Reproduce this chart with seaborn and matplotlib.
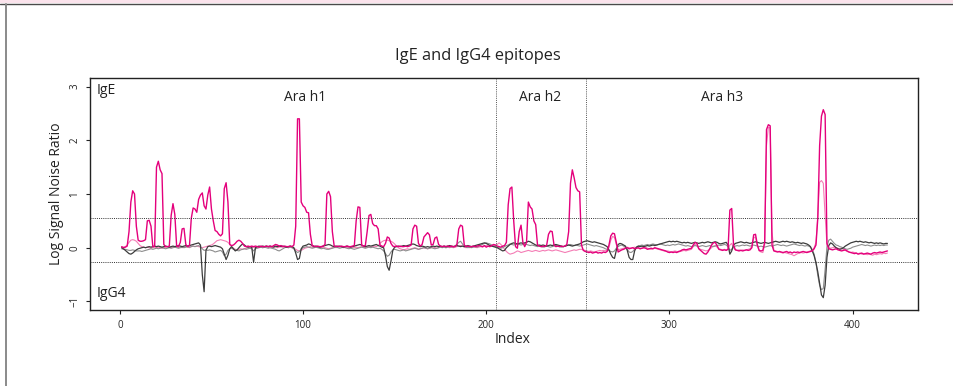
import numpy as np
import pandas as pd
import matplotlib
matplotlib.use("Agg")
import matplotlib.pyplot as plt
from matplotlib.lines import Line2D
from matplotlib.patches import Rectangle
import seaborn as sns

# Log signal/noise ratio per peptide index, two IgE and two IgG4 profiles
ige_a = [
    0.02, 0.00, 0.01, 0.03, 0.30, 0.85, 1.06, 1.00, 0.40, 0.14, 0.12, 0.12, 0.13, 0.15, 0.50, 0.51, 0.40, 0.02, 0.03, 1.50,
    1.61, 1.45, 1.38, 0.06, 0.02, 0.02, 0.03, 0.60, 0.82, 0.62, 0.03, 0.02, 0.10, 0.35, 0.36, 0.06, 0.02, 0.04, 0.55, 0.74,
    0.72, 0.66, 0.90, 0.98, 1.02, 0.78, 0.72, 0.98, 1.13, 0.72, 0.50, 0.32, 0.30, 0.25, 0.22, 0.26, 1.10, 1.21, 0.85, 0.06,
    0.04, 0.05, 0.08, 0.12, 0.14, 0.12, 0.08, 0.03, 0.02, 0.03, 0.02, 0.03, 0.02, 0.03, 0.02, 0.01, 0.03, 0.02, 0.02, 0.03,
    0.02, 0.03, 0.02, 0.04, 0.06, 0.05, 0.03, 0.04, 0.02, 0.03, 0.02, 0.02, 0.03, 0.02, 0.05, 0.40, 2.40, 2.40, 0.85, 0.78,
    0.75, 0.66, 0.65, 0.25, 0.04, 0.03, 0.02, 0.03, 0.02, 0.02, 0.03, 0.06, 1.00, 1.05, 0.95, 0.30, 0.03, 0.02, 0.03, 0.02,
    0.03, 0.02, 0.02, 0.03, 0.02, 0.02, 0.03, 0.04, 0.50, 0.76, 0.75, 0.05, 0.03, 0.04, 0.30, 0.60, 0.62, 0.45, 0.41, 0.41,
    0.35, 0.05, 0.03, 0.02, 0.08, 0.20, 0.18, 0.08, 0.03, 0.02, 0.03, 0.02, 0.03, 0.02, 0.02, 0.03, 0.02, 0.03, 0.05, 0.35,
    0.42, 0.40, 0.08, 0.03, 0.06, 0.20, 0.24, 0.28, 0.24, 0.05, 0.06, 0.18, 0.20, 0.06, 0.03, 0.02, 0.03, 0.02, 0.03, 0.02,
    0.03, 0.02, 0.02, 0.06, 0.35, 0.42, 0.40, 0.05, 0.02, 0.03, 0.02, 0.02, 0.03, 0.02, 0.03, 0.04, 0.03, 0.02, 0.04, 0.01,
    0.03, 0.02, 0.04, 0.06, 0.05, 0.03, 0.02, 0.01, 0.03, 0.04, 0.10, 0.80, 1.10, 1.13, 0.50, 0.02, -0.01, 0.30, 0.42, 0.10,
    0.02, 0.10, 0.85, 0.76, 0.72, 0.50, 0.43, 0.05, 0.03, 0.02, 0.03, 0.02, 0.05, 0.25, 0.31, 0.30, 0.05, 0.02, 0.03, 0.02,
    0.03, 0.02, 0.03, 0.06, 0.30, 1.20, 1.45, 1.30, 1.12, 1.06, 1.04, 0.05, -0.05, -0.07, -0.08, -0.09, -0.08, -0.10, -0.09, -0.08,
    -0.10, -0.09, -0.10, -0.08, -0.09, -0.07, 0.05, 0.22, 0.27, 0.26, 0.10, -0.08, -0.06, -0.04, -0.03, -0.01, 0.00, -0.02, -0.01, 0.00,
    -0.02, -0.01, 0.00, -0.02, -0.01, 0.00, -0.01, -0.03, -0.02, -0.01, -0.02, 0.00, -0.01, -0.02, -0.03, -0.04, -0.05, -0.06, -0.08, -0.09,
    -0.08, -0.09, -0.08, -0.09, -0.07, -0.06, -0.04, -0.03, -0.04, -0.03, -0.02, -0.01, 0.05, 0.10, 0.08, -0.02, -0.05, -0.08, -0.11, -0.12,
    -0.08, -0.02, 0.05, 0.09, 0.10, 0.04, -0.03, -0.04, -0.05, -0.04, -0.05, -0.03, 0.70, 0.73, 0.05, -0.04, -0.05, -0.06, -0.05, -0.06,
    -0.05, -0.04, -0.05, -0.04, 0.00, 0.24, 0.25, 0.05, -0.05, -0.06, -0.05, 0.10, 2.20, 2.29, 2.27, 0.05, -0.06, -0.07, -0.08, -0.07,
    -0.08, -0.09, -0.08, -0.07, -0.09, -0.08, -0.10, -0.08, -0.09, -0.08, -0.09, -0.08, -0.07, -0.08, -0.09, -0.08, -0.07, -0.06, -0.02, 0.05,
    0.55, 1.90, 2.45, 2.57, 2.48, 0.08, -0.02, -0.03, -0.04, -0.03, -0.02, -0.04, -0.05, -0.06, -0.05, -0.04, -0.06, -0.08, -0.09, -0.10,
    -0.11, -0.10, -0.12, -0.11, -0.10, -0.12, -0.11, -0.10, -0.11, -0.12, -0.10, -0.09, -0.10, -0.09, -0.08, -0.09, -0.08, -0.07, -0.06,
]

ige_b = [
    0.00, 0.01, 0.02, 0.05, 0.10, 0.14, 0.15, 0.14, 0.12, 0.08, 0.04, 0.02, 0.01, 0.00, 0.01, 0.00, -0.01, 0.00, 0.01, 0.00,
    0.01, 0.00, -0.01, 0.00, 0.01, 0.02, 0.01, 0.00, 0.01, 0.02, 0.01, 0.00, 0.01, 0.00, 0.01, 0.02, 0.01, 0.00, 0.02, 0.03,
    0.02, 0.03, 0.02, 0.01, 0.00, 0.01, 0.02, 0.03, 0.04, 0.05, 0.07, 0.10, 0.13, 0.14, 0.15, 0.14, 0.13, 0.12, 0.10, 0.06,
    0.02, -0.01, -0.03, -0.04, -0.03, -0.02, -0.03, -0.02, -0.01, 0.00, 0.01, 0.00, 0.01, 0.00, 0.01, 0.02, 0.01, 0.00, 0.01, 0.02,
    0.01, 0.00, 0.01, 0.02, 0.01, 0.00, 0.01, 0.02, 0.01, 0.02, 0.01, 0.00, 0.01, 0.00, -0.01, -0.03, -0.05, -0.06, -0.05, -0.03,
    -0.01, 0.00, 0.01, 0.02, 0.01, 0.00, 0.01, 0.02, 0.01, 0.00, 0.01, 0.00, -0.01, -0.02, -0.01, 0.00, 0.01, 0.00, 0.01, 0.02,
    0.01, 0.00, 0.01, 0.00, 0.01, 0.02, 0.01, 0.00, 0.01, 0.00, 0.01, 0.02, 0.01, 0.00, 0.01, 0.02, 0.01, 0.02, 0.03, 0.02,
    0.04, 0.08, 0.11, 0.13, 0.14, 0.14, 0.13, 0.12, 0.10, 0.07, 0.03, 0.00, -0.02, -0.03, -0.04, -0.03, -0.02, -0.03, -0.02, -0.01,
    0.00, -0.01, -0.03, -0.02, -0.01, 0.00, -0.01, -0.02, -0.01, 0.00, 0.01, 0.00, -0.01, 0.00, 0.01, 0.02, 0.01, 0.00, 0.01, 0.00,
    0.01, 0.00, 0.01, 0.02, 0.03, 0.04, 0.03, 0.01, 0.00, 0.01, 0.00, 0.01, 0.02, 0.01, 0.00, 0.01, 0.02, 0.01, 0.03, 0.04,
    0.03, 0.02, 0.04, 0.05, 0.04, 0.06, 0.09, 0.06, 0.02, -0.03, -0.07, -0.10, -0.12, -0.11, -0.10, -0.08, -0.06, -0.07, -0.09, -0.08,
    -0.07, -0.06, -0.05, -0.06, -0.07, -0.06, -0.05, -0.06, -0.07, -0.06, -0.05, -0.06, -0.05, -0.04, -0.05, -0.06, -0.05, -0.04, -0.05, -0.06,
    -0.07, -0.08, -0.09, -0.08, -0.07, -0.06, -0.05, -0.04, -0.05, -0.04, -0.03, -0.03, -0.04, -0.05, -0.06, -0.07, -0.06, -0.07, -0.08, -0.07,
    -0.06, -0.05, -0.06, -0.05, -0.06, -0.04, 0.00, 0.14, 0.21, 0.19, 0.06, -0.04, -0.03, -0.02, -0.01, 0.00, 0.01, 0.00, -0.01, 0.00,
    0.01, 0.00, -0.01, -0.02, -0.01, 0.00, 0.01, -0.01, -0.02, -0.03, -0.02, -0.01, -0.02, -0.03, -0.04, -0.05, -0.06, -0.07, -0.06, -0.07,
    -0.08, -0.07, -0.06, -0.07, -0.08, -0.07, -0.06, -0.05, -0.06, -0.05, -0.04, -0.03, 0.02, 0.06, 0.04, -0.01, -0.03, -0.04, -0.05, -0.06,
    -0.05, -0.03, 0.00, 0.03, 0.04, 0.01, -0.02, -0.03, -0.04, -0.03, -0.04, -0.03, 0.05, 0.08, 0.00, -0.04, -0.05, -0.04, -0.05, -0.04,
    -0.05, -0.04, -0.03, -0.02, 0.02, 0.18, 0.20, 0.04, -0.06, -0.08, -0.09, 0.05, 1.90, 2.24, 2.23, 0.30, -0.05, -0.06, -0.07, -0.08,
    -0.09, -0.10, -0.09, -0.10, -0.11, -0.12, -0.13, -0.15, -0.13, -0.11, -0.10, -0.09, -0.10, -0.09, -0.08, -0.07, -0.06, -0.04, 0.00, 0.10,
    0.60, 1.22, 1.25, 1.20, 0.60, 0.05, 0.00, -0.01, 0.00, 0.01, 0.00, -0.01, -0.02, -0.01, -0.03, -0.05, -0.07, -0.08, -0.09, -0.08,
    -0.09, -0.10, -0.11, -0.10, -0.12, -0.11, -0.12, -0.13, -0.12, -0.13, -0.14, -0.12, -0.13, -0.12, -0.11, -0.12, -0.10, -0.11, -0.10,
]

igg4_a = [
    0.00, -0.02, -0.05, -0.08, -0.11, -0.12, -0.10, -0.07, -0.04, -0.02, -0.01, 0.00, 0.01, 0.00, 0.01, 0.02, 0.01, 0.02, 0.03, 0.02,
    0.03, 0.02, 0.01, 0.02, 0.03, 0.02, 0.01, 0.02, 0.03, 0.02, 0.03, 0.04, 0.03, 0.02, 0.03, 0.04, 0.03, 0.04, 0.05, 0.06,
    0.07, 0.08, 0.09, 0.05, -0.50, -0.82, -0.05, 0.02, 0.03, 0.02, 0.03, 0.04, 0.03, 0.02, 0.01, -0.02, -0.12, -0.22, -0.14, -0.02,
    0.02, -0.02, -0.06, -0.04, 0.00, 0.04, 0.07, 0.05, 0.02, 0.01, 0.02, 0.01, -0.27, 0.00, 0.02, 0.03, 0.02, 0.03, 0.02, 0.03,
    0.02, 0.03, 0.02, 0.01, 0.03, 0.02, 0.03, 0.02, 0.03, 0.02, 0.01, 0.02, 0.03, 0.02, 0.00, -0.10, -0.22, -0.20, -0.02, 0.03,
    0.04, 0.05, 0.07, 0.06, 0.04, 0.02, 0.03, 0.02, 0.01, 0.02, 0.03, 0.04, 0.05, 0.06, 0.05, 0.03, 0.02, 0.03, 0.02, 0.03,
    0.02, 0.01, 0.02, 0.03, 0.02, 0.01, 0.02, 0.03, 0.04, 0.05, 0.06, 0.05, 0.03, 0.02, 0.03, 0.04, 0.03, 0.04, 0.05, 0.06,
    0.04, 0.03, 0.01, 0.00, -0.15, -0.35, -0.42, -0.25, -0.05, 0.01, 0.02, 0.03, 0.02, 0.03, 0.04, 0.03, 0.04, 0.05, 0.06, 0.07,
    0.06, 0.04, 0.03, 0.02, 0.03, 0.02, 0.01, 0.02, 0.01, 0.02, 0.03, 0.02, 0.03, 0.02, 0.03, 0.02, 0.03, 0.02, 0.03, 0.04,
    0.03, 0.02, 0.03, 0.04, 0.03, 0.02, 0.03, 0.02, 0.03, 0.04, 0.03, 0.02, 0.03, 0.04, 0.05, 0.06, 0.07, 0.08, 0.09, 0.08,
    0.06, 0.04, 0.03, 0.02, 0.01, 0.00, -0.02, -0.04, -0.06, -0.05, 0.00, 0.03, 0.06, 0.08, 0.09, 0.08, 0.07, 0.08, 0.09, 0.08,
    0.09, 0.10, 0.12, 0.11, 0.09, 0.07, 0.05, 0.04, 0.05, 0.04, 0.05, 0.04, 0.03, 0.04, 0.05, 0.04, 0.05, 0.06, 0.05, 0.04,
    0.03, 0.02, 0.03, 0.04, 0.05, 0.04, 0.03, 0.04, 0.05, 0.06, 0.07, 0.09, 0.11, 0.12, 0.13, 0.12, 0.11, 0.10, 0.11, 0.10,
    0.09, 0.08, 0.07, 0.06, 0.04, 0.02, -0.04, -0.12, -0.18, -0.20, -0.05, 0.06, 0.08, 0.07, 0.05, 0.03, -0.05, -0.18, -0.22, -0.22,
    -0.06, 0.01, 0.03, 0.02, 0.03, 0.02, 0.03, 0.04, 0.03, 0.04, 0.05, 0.04, 0.05, 0.06, 0.07, 0.08, 0.09, 0.10, 0.11, 0.12,
    0.11, 0.12, 0.11, 0.12, 0.11, 0.10, 0.09, 0.10, 0.09, 0.10, 0.09, 0.08, 0.09, 0.10, 0.09, 0.08, 0.09, 0.10, 0.09, 0.10,
    0.11, 0.10, 0.09, 0.10, 0.11, 0.10, 0.08, 0.07, 0.08, 0.09, 0.10, 0.05, -0.12, -0.06, 0.05, 0.08, 0.09, 0.10, 0.11, 0.10,
    0.09, 0.10, 0.09, 0.08, 0.09, 0.10, 0.11, 0.10, 0.09, 0.08, 0.09, 0.10, 0.09, 0.08, 0.09, 0.10, 0.11, 0.12, 0.11, 0.10,
    0.11, 0.12, 0.11, 0.12, 0.11, 0.10, 0.11, 0.10, 0.09, 0.10, 0.09, 0.08, 0.09, 0.08, 0.07, 0.05, 0.02, -0.06, -0.15, -0.28,
    -0.45, -0.66, -0.88, -0.93, -0.70, -0.18, 0.04, 0.09, 0.07, 0.03, 0.00, -0.02, -0.03, -0.02, 0.00, 0.03, 0.05, 0.07, 0.09, 0.10,
    0.11, 0.12, 0.11, 0.12, 0.11, 0.10, 0.11, 0.10, 0.09, 0.10, 0.09, 0.08, 0.09, 0.08, 0.09, 0.08, 0.07, 0.08, 0.08,
]

igg4_b = [
    -0.02, -0.03, -0.03, -0.04, -0.05, -0.05, -0.04, -0.05, -0.06, -0.06, -0.06, -0.07, -0.06, -0.05, -0.04, -0.03, -0.02, -0.03, -0.02, -0.01,
    -0.02, -0.01, 0.00, -0.01, -0.02, -0.01, 0.00, -0.01, 0.00, 0.01, 0.00, -0.01, 0.00, 0.01, 0.00, 0.01, 0.02, 0.01, 0.02, 0.03,
    0.02, 0.03, 0.04, 0.02, -0.02, -0.05, -0.04, -0.05, -0.04, -0.05, -0.06, -0.08, -0.07, -0.06, -0.05, -0.08, -0.15, -0.12, -0.05, -0.02,
    -0.01, -0.03, -0.04, -0.05, -0.06, -0.04, -0.03, -0.02, -0.03, -0.02, -0.01, -0.02, -0.06, -0.02, -0.01, 0.00, 0.01, 0.00, 0.01, 0.00,
    -0.01, 0.00, -0.01, -0.02, -0.03, -0.05, -0.06, -0.04, -0.02, 0.00, 0.01, 0.00, 0.01, 0.00, -0.02, -0.06, -0.09, -0.07, -0.03, 0.00,
    0.01, 0.02, 0.01, 0.00, -0.01, 0.00, 0.01, 0.00, -0.01, -0.02, -0.01, -0.02, -0.03, -0.03, -0.02, -0.01, 0.00, 0.01, 0.00, -0.01,
    0.00, 0.01, 0.00, -0.01, -0.02, -0.01, -0.02, -0.03, -0.02, -0.01, 0.00, 0.01, 0.00, -0.01, 0.00, 0.01, 0.00, 0.01, 0.00, -0.01,
    -0.02, -0.01, -0.03, -0.06, -0.11, -0.16, -0.14, -0.08, -0.04, -0.03, -0.04, -0.05, -0.06, -0.05, -0.04, -0.06, -0.05, -0.04, -0.03, -0.02,
    -0.01, -0.02, -0.03, -0.02, -0.01, 0.00, -0.01, -0.02, -0.01, 0.00, -0.01, -0.02, -0.01, 0.00, 0.01, 0.00, 0.01, 0.00, 0.01, 0.02,
    0.01, 0.02, 0.03, 0.06, 0.10, 0.12, 0.07, 0.03, 0.01, 0.00, 0.01, 0.00, 0.01, 0.02, 0.01, 0.03, 0.05, 0.06, 0.08, 0.09,
    0.08, 0.07, 0.05, 0.03, 0.02, 0.01, 0.00, -0.01, 0.00, 0.02, 0.04, 0.05, 0.07, 0.06, 0.05, 0.06, 0.07, 0.06, 0.05, 0.06,
    0.07, 0.06, 0.05, 0.04, 0.05, 0.04, 0.03, 0.02, 0.03, 0.02, 0.01, 0.02, 0.03, 0.02, 0.01, 0.02, 0.03, 0.04, 0.03, 0.02,
    0.01, 0.02, 0.03, 0.04, 0.05, 0.06, 0.05, 0.04, 0.05, 0.04, 0.03, 0.04, 0.05, 0.06, 0.07, 0.06, 0.05, 0.04, 0.03, 0.04,
    0.03, 0.02, 0.01, 0.00, -0.02, -0.03, -0.05, -0.07, -0.08, -0.06, -0.01, 0.02, 0.04, 0.05, 0.03, 0.01, -0.03, -0.08, -0.09, -0.07,
    -0.03, 0.01, 0.03, 0.04, 0.05, 0.04, 0.05, 0.06, 0.05, 0.06, 0.07, 0.06, 0.05, 0.06, 0.07, 0.06, 0.05, 0.04, 0.05, 0.04,
    0.05, 0.06, 0.05, 0.06, 0.07, 0.06, 0.05, 0.04, 0.03, 0.04, 0.03, 0.02, 0.03, 0.04, 0.03, 0.02, 0.03, 0.04, 0.03, 0.02,
    0.03, 0.04, 0.03, 0.02, 0.03, 0.04, 0.05, 0.04, 0.05, 0.06, 0.05, 0.02, -0.05, -0.03, 0.02, 0.03, 0.04, 0.03, 0.04, 0.05,
    0.04, 0.05, 0.04, 0.03, 0.04, 0.05, 0.04, 0.03, 0.02, 0.03, 0.02, 0.01, 0.02, 0.03, 0.04, 0.03, 0.04, 0.05, 0.06, 0.05,
    0.04, 0.05, 0.04, 0.03, 0.04, 0.05, 0.06, 0.07, 0.06, 0.05, 0.04, 0.05, 0.04, 0.03, 0.04, 0.03, 0.01, -0.04, -0.12, -0.28,
    -0.52, -0.70, -0.78, -0.76, -0.40, 0.02, 0.14, 0.16, 0.12, 0.08, 0.05, 0.04, 0.02, 0.01, -0.01, -0.02, -0.03, -0.02, -0.01, 0.01,
    0.02, 0.03, 0.04, 0.05, 0.06, 0.05, 0.04, 0.05, 0.04, 0.03, 0.04, 0.05, 0.04, 0.05, 0.04, 0.05, 0.04, 0.05, 0.05,
]

# Allergen boundaries (peptide index) and their labels
region_bounds = [205.3, 254.2]
region_names = ["Ara h1", "Ara h2", "Ara h3"]
region_label_x = [101, 229.5, 329]
# Significance cut-offs for IgE (upper) and IgG4 (lower)
thresholds = [0.548, -0.268]

x_ticks = [0, 100, 200, 300, 400]
y_ticks = [-1, 0, 1, 2, 3]

index = np.arange(1, len(ige_a) + 1)
series = {
    "IgE b": ige_b,
    "IgG4 b": igg4_b,
    "IgG4 a": igg4_a,
    "IgE a": ige_a,
}
df = pd.DataFrame(
    [(i, v, name) for name, vals in series.items() for i, v in zip(index, vals)],
    columns=["Index", "ratio", "sample"],
)

sns.set_theme(style="white")
plt.rcParams["font.family"] = ["Open Sans", "DejaVu Sans"]

W, H = 954, 386
fig = plt.figure(figsize=(W / 100, H / 100), dpi=100)
ax = fig.add_axes([90 / W, 1 - 310 / H, 828 / W, 232 / H])

styles = {
    "IgE b": ("#F47DB5", 0.8),
    "IgG4 b": ("#8E8E8E", 0.8),
    "IgG4 a": ("#3C3C3C", 0.9),
    "IgE a": ("#E4007C", 1.0),
}
for name in series:
    color, lw = styles[name]
    sns.lineplot(data=df[df["sample"] == name], x="Index", y="ratio",
                 ax=ax, color=color, linewidth=lw, legend=False)

for t in thresholds:
    ax.axhline(t, color="#333333", lw=0.7, ls=(0, (1, 1.2)))
for b in region_bounds:
    ax.axvline(b, color="#555555", lw=0.7, ls=(0, (1, 1.2)))

for name, xpos in zip(region_names, region_label_x):
    ax.text(xpos, 2.8, name, ha="center", va="center", fontsize=10, color="#222222")

ax.text(0.0075, 0.948, "IgE", transform=ax.transAxes, ha="left", va="center",
        fontsize=10, color="#222222")
ax.text(0.0075, 0.071, "IgG4", transform=ax.transAxes, ha="left", va="center",
        fontsize=10, color="#222222")

ax.set_xlim(-16.3, 435.7)
ax.set_ylim(-1.16, 3.16)
ax.set_xticks(x_ticks)
ax.set_xticklabels([str(v) for v in x_ticks])
ax.set_yticks(y_ticks)
ax.set_yticklabels(["\u22121" if v < 0 else str(v) for v in y_ticks])
ax.tick_params(axis="both", which="major", direction="out", length=3, width=0.8,
               color="#222222", labelsize=7, labelcolor="#222222", pad=4,
               bottom=True, left=True)
for lab in ax.get_yticklabels():
    lab.set_rotation(90)
    lab.set_va("center")
ax.set_xlabel("")
ax.set_ylabel("")
for sp in ax.spines.values():
    sp.set_color("#222222")
    sp.set_linewidth(1.0)
    sp.set_visible(True)

fig.text(477.5 / W, 1 - 56.5 / H, "IgE and IgG4 epitopes", ha="center", va="center",
         fontsize=11.8, color="#222222")
fig.text(513 / W, 1 - 339.5 / H, "Index", ha="center", va="center",
         fontsize=10, color="#222222")
fig.text(57 / W, 1 - 194 / H, "Log Signal Noise Ratio", ha="center", va="center",
         rotation=90, fontsize=10, color="#222222")

# page frame around the figure
fig.add_artist(Rectangle((0, 1 - 3.4 / H), 1, 3.4 / H, transform=fig.transFigure,
                         facecolor="#FBE3EC", edgecolor="none"))
fig.add_artist(Line2D([0, 1], [1 - 4.0 / H] * 2, transform=fig.transFigure,
                      color="#4A4A4A", lw=1.0))
fig.add_artist(Line2D([5.7 / W] * 2, [0, 1 - 4.0 / H], transform=fig.transFigure,
                      color="#8A8A8A", lw=1.4))

fig.savefig("out.png", dpi=100)
